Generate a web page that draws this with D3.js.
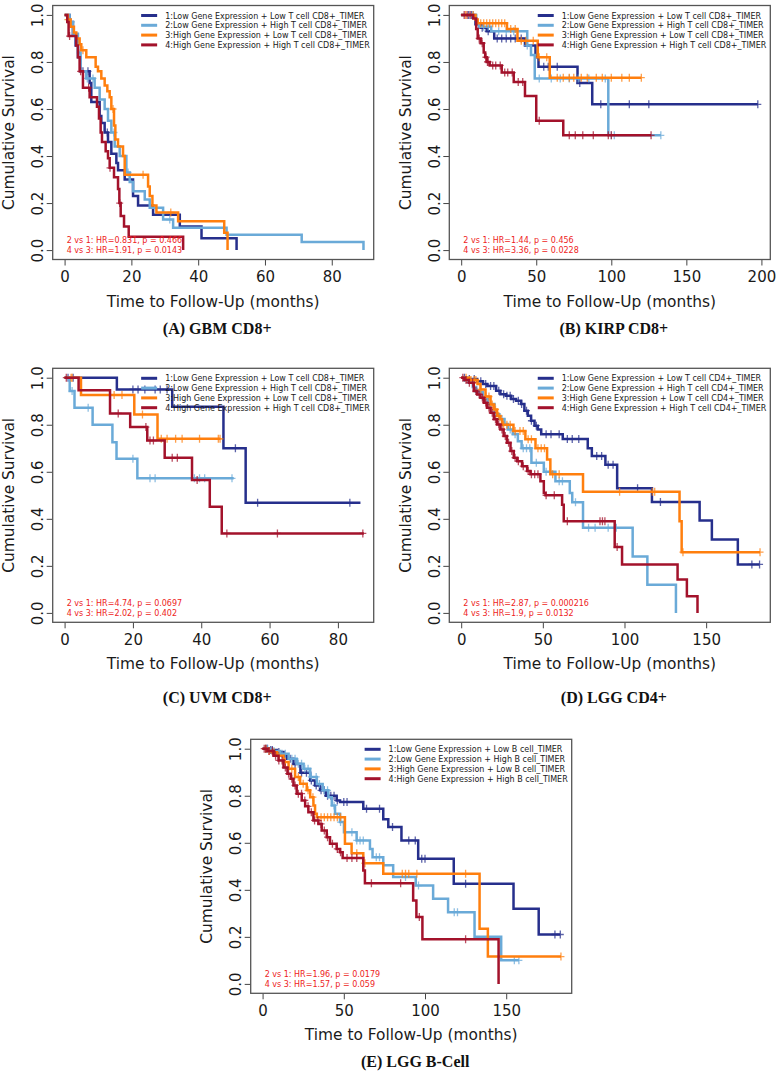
<!DOCTYPE html>
<html>
<head>
<meta charset="utf-8">
<script src="https://cdn.jsdelivr.net/npm/d3@7"></script>
<style>
  body { margin: 0; background: #fff; }
  #chart { width: 780px; height: 1072px; }
</style>
</head>
<body>
<div id="chart"></div>
<script>
// ---- data ----
const panelTitles = ["(A) GBM CD8+", "(B) KIRP CD8+", "(C) UVM CD8+", "(D) LGG CD4+", "(E) LGG B-Cell"];
const panelXMax = [89, 198, 87, 182, 183];
const panelXTicks = [[0, 20, 40, 60, 80], [0, 50, 100, 150, 200], [0, 20, 40, 60, 80], [0, 50, 100, 150], [0, 50, 100, 150]];
const yTicks = [0, 0.2, 0.4, 0.6, 0.8, 1.0];

const cd8Labels = [
    "1:Low Gene Expression + Low T cell CD8+_TIMER",
    "2:Low Gene Expression + High T cell CD8+_TIMER",
    "3:High Gene Expression + Low T cell CD8+_TIMER",
    "4:High Gene Expression + High T cell CD8+_TIMER"
];
const cd4Labels = [
    "1:Low Gene Expression + Low T cell CD4+_TIMER",
    "2:Low Gene Expression + High T cell CD4+_TIMER",
    "3:High Gene Expression + Low T cell CD4+_TIMER",
    "4:High Gene Expression + High T cell CD4+_TIMER"
];
const bcellLabels = [
    "1:Low Gene Expression + Low B cell_TIMER",
    "2:Low Gene Expression + High B cell_TIMER",
    "3:High Gene Expression + Low B cell_TIMER",
    "4:High Gene Expression + High B cell_TIMER"
];

const hrTexts = [
    ["2 vs 1: HR=0.831, p = 0.466", "4 vs 3: HR=1.91, p = 0.0143"],
    ["2 vs 1: HR=1.44, p = 0.456", "4 vs 3: HR=3.36, p = 0.0228"],
    ["2 vs 1: HR=4.74, p = 0.0697", "4 vs 3: HR=2.02, p = 0.402"],
    ["2 vs 1: HR=2.87, p = 0.000216", "4 vs 3: HR=1.9, p = 0.0132"],
    ["2 vs 1: HR=1.96, p = 0.0179", "4 vs 3: HR=1.57, p = 0.059"]
];

// KM steps: [month, survival after the drop]; last entry is where the curve ends
const gbmSteps = [
    [[0,1],[1.5,0.97],[2.5,0.92],[3.3,0.87],[4,0.82],[4.7,0.76],[7.5,0.71],[8,0.63],[10.5,0.57],[11,0.54],[12,0.5],[13,0.46],[14,0.41],[15.5,0.37],[16,0.34],[18,0.3],[20.5,0.23],[22,0.19],[26.5,0.15],[34.5,0.1],[41,0.05],[51.5,0]],
    [[0,1],[1.5,0.97],[2.5,0.92],[4,0.84],[4.8,0.76],[6.5,0.73],[9,0.69],[10.5,0.64],[12,0.6],[13,0.55],[14,0.5],[15,0.44],[16.5,0.4],[18.5,0.33],[19.5,0.29],[20.5,0.25],[24,0.215],[25.5,0.18],[29.5,0.13],[32.5,0.095],[48.5,0.065],[71,0.034],[89.5,0]],
    [[0,1],[1,0.98],[1.8,0.95],[2.8,0.925],[3.5,0.9],[4.5,0.875],[5,0.85],[6.5,0.82],[9.3,0.78],[10,0.76],[11,0.73],[12,0.7],[12.8,0.675],[13.5,0.65],[14,0.6],[14.8,0.53],[15.2,0.47],[16,0.44],[17.5,0.4],[18,0.32],[25,0.27],[25.5,0.23],[26.3,0.19],[27.5,0.16],[34,0.123],[47.8,0.074],[48.8,0]],
    [[0,1],[0.8,0.97],[1.2,0.91],[3.5,0.87],[4,0.82],[4.5,0.76],[5.5,0.69],[7.5,0.65],[9.7,0.61],[10.3,0.56],[10.8,0.5],[11.2,0.46],[12.3,0.42],[13,0.39],[13.5,0.35],[14.8,0.31],[16,0.26],[16.4,0.2],[16.8,0.145],[17.8,0.1],[19.2,0.057],[35.5,0]]
];
const gbmCensor = [
    [5.5, 7, 12.8],
    [2, 6.8, 8.5, 14.8, 19, 31.5],
    [1, 5.5, 14.5, 23.5, 31.8],
    [1.5, 4.8, 7.2, 13.6, 16.5]
];

const kirpSteps = [
    [[0,1],[9.5,0.96],[13,0.945],[17,0.93],[22,0.9],[42.5,0.87],[49.5,0.82],[51.5,0.78],[77.5,0.71],[87.3,0.62],[197.6,0.62]],
    [[0,1],[10,0.965],[12,0.95],[20,0.93],[44,0.87],[46.5,0.83],[49,0.73],[98,0.488],[133,0.488]],
    [[0,1],[9.5,0.98],[11,0.965],[30.5,0.94],[37.5,0.89],[51,0.82],[59,0.733],[120,0.733]],
    [[0,1],[8,0.985],[10,0.94],[11,0.9],[13,0.88],[15,0.84],[16,0.82],[17,0.8],[19,0.785],[27,0.755],[35,0.715],[42.5,0.655],[50,0.55],[68,0.488],[126.5,0.488]]
];
const kirpCensor = [
    [5, 7, 14, 18, 24, 27, 30, 33, 36, 40, 55, 58, 64, 79, 93, 112, 125, 197.6],
    [8, 15, 18, 25, 30, 35, 44, 52, 60, 66, 72, 78, 85, 96, 100, 102, 133],
    [3, 8, 13, 15, 17, 19, 21, 23, 25, 27, 29, 33, 36, 40, 43, 48, 52, 57, 64, 68, 72, 75, 80, 84, 90, 94, 100, 107, 112, 120],
    [2, 4, 6, 12, 14, 16.5, 17.5, 18, 21, 23, 26, 29, 31, 34, 38, 41, 52, 72, 76, 81, 88, 98, 100, 126.5]
];

const uvmSteps = [
    [[0,1],[15.3,0.95],[31.5,0.877],[46.5,0.7],[53,0.468],[86.6,0.468]],
    [[0,1],[1.5,0.943],[2.9,0.872],[8.2,0.8],[14,0.726],[15.2,0.655],[21.3,0.572],[49.5,0.572]],
    [[0,1],[4.8,0.926],[20.4,0.844],[27.2,0.74],[45.6,0.74]],
    [[0,1],[4.1,0.947],[13.3,0.848],[19.2,0.79],[24.2,0.733],[29.3,0.66],[37.3,0.565],[42.5,0.451],[46,0.338],[87.6,0.338]]
];
const uvmCensor = [
    [1, 2.5, 20, 21.5, 23.5, 26.5, 28, 30, 50, 56.5, 83.5],
    [2.2, 6.9, 20, 25, 26.5, 38, 39.5, 41, 49],
    [1.9, 2.2, 14.5, 16.8, 22.8, 28.3, 30, 32.5, 34.4, 39.5, 45, 45.5],
    [0.5, 15.7, 23.8, 25, 26, 31.5, 33, 38.8, 47.5, 62.3, 87.3]
];

const lggCd4Steps = [
    [[0,1],[3,0.995],[9.8,0.985],[13.3,0.973],[16,0.965],[21.4,0.945],[24,0.93],[27.5,0.923],[30.6,0.909],[33.6,0.902],[36.7,0.888],[38.7,0.86],[40.8,0.838],[42.8,0.817],[44.9,0.796],[46.9,0.78],[49,0.76],[62.2,0.739],[77.5,0.7],[80,0.667],[88.3,0.63],[95.5,0.53],[116.8,0.472],[146,0.393],[153.5,0.312],[169.4,0.206],[182.7,0.206]],
    [[0,1],[2,0.99],[7.1,0.96],[9.2,0.94],[13.3,0.909],[16.3,0.888],[20.4,0.845],[23.4,0.824],[26.5,0.803],[28.5,0.78],[31.6,0.76],[34.7,0.73],[37,0.7],[43,0.638],[50.6,0.6],[57.7,0.56],[66.5,0.51],[68,0.47],[74.6,0.362],[105,0.24],[114,0.12],[131.5,0]],
    [[0,1],[5,0.99],[10,0.973],[11.8,0.95],[14.9,0.92],[18,0.886],[20,0.865],[22,0.837],[24,0.823],[25,0.8],[32,0.773],[39.3,0.738],[45.5,0.7],[52.6,0.652],[54.6,0.59],[74.6,0.515],[133.7,0.39],[135,0.258],[183,0.258]],
    [[0,1],[2,0.99],[4.7,0.979],[7.7,0.943],[9.8,0.929],[11.8,0.915],[13.9,0.894],[15.9,0.872],[18,0.851],[20,0.823],[22,0.801],[24,0.78],[26,0.752],[28,0.723],[30.2,0.688],[32.2,0.66],[34.3,0.645],[37.3,0.624],[40.4,0.603],[42.4,0.589],[48.5,0.56],[50.6,0.51],[51.6,0.5],[61.8,0.46],[62.8,0.39],[94,0.28],[98.5,0.206],[132.5,0.142],[138.2,0.071],[144.7,0]]
];
const lggCd4Censor = [
    [2, 5, 8, 12, 15, 18, 20, 23, 26, 28, 30, 32, 35, 37, 40, 43, 46, 52, 55, 60, 65, 68, 72, 83, 86, 90, 93, 108, 122, 178, 182.7],
    [4, 10, 15, 18, 25, 30, 33, 38, 40, 42, 46, 52, 60, 62, 70, 78, 82, 90, 95],
    [3, 5, 6, 8, 9, 12, 15, 17, 19, 21, 23, 26, 28, 30, 33, 36, 38, 41, 43, 47, 49, 51, 56, 60, 97, 117, 118.5, 135.8, 183],
    [1, 3, 5, 7, 9, 11, 13, 15, 17, 19, 21, 23, 25, 27, 29, 31, 33, 35, 38, 41, 43, 45, 47, 52, 57, 65, 85, 86.5, 88, 95.5]
];

const lggBSteps = [
    [[0,1],[4,0.995],[8.8,0.986],[12.9,0.968],[15,0.957],[19,0.935],[23.3,0.898],[29.3,0.865],[32.3,0.844],[35.4,0.823],[39,0.8],[45.6,0.78],[47.7,0.773],[62,0.745],[74.3,0.7],[77.4,0.667],[85.5,0.61],[95.8,0.532],[117.7,0.426],[154.5,0.319],[170,0.21],[183.3,0.21]],
    [[0,1],[5,0.99],[10.8,0.979],[16,0.957],[21,0.936],[25.2,0.915],[29.3,0.88],[33.4,0.85],[37,0.823],[40.5,0.794],[42.6,0.759],[44.6,0.723],[47.7,0.688],[50.1,0.645],[57.9,0.61],[66.1,0.574],[67.7,0.539],[74.3,0.504],[80.4,0.454],[94.3,0.418],[105,0.362],[114.2,0.305],[130.5,0.2],[146.9,0.1],[157.8,0.1]],
    [[0,1],[3,0.99],[5.7,0.985],[8.8,0.97],[12.9,0.943],[16,0.915],[20,0.88],[23.1,0.851],[27.2,0.823],[29.3,0.794],[31.3,0.759],[32.3,0.723],[33.4,0.709],[50.7,0.596],[54.8,0.556],[62,0.513],[74.3,0.468],[133.6,0.234],[138.7,0.116],[183.7,0.116]],
    [[0,1],[3,0.99],[6.8,0.97],[9.8,0.95],[12.9,0.92],[15.3,0.894],[17.4,0.872],[19,0.844],[21,0.809],[24.1,0.78],[26.2,0.755],[28.2,0.73],[31.3,0.695],[34.4,0.68],[36.4,0.652],[39.5,0.624],[41.5,0.596],[45.6,0.574],[47.7,0.56],[49.3,0.535],[62,0.482],[63,0.428],[92.7,0.355],[94.7,0.284],[98.4,0.19],[145.3,0]]
];
const lggBCensor = [
    [2, 3, 5, 6, 10, 13, 17, 20, 24, 27, 30, 33, 36, 38, 40, 42, 44, 46, 50, 52, 64, 72, 80, 90, 94, 98, 100, 125, 180, 183.3],
    [3, 7, 12, 14, 18, 20, 22, 24, 26, 28, 30, 33, 35, 38, 40, 44, 48, 55, 58, 60, 62, 70, 72, 88, 96, 118, 120, 155, 157.8],
    [2, 4, 7, 10, 14, 18, 22, 25, 28, 31, 36, 38, 40, 42, 44, 46, 48, 58, 63, 86, 88, 90, 95, 125, 183.7],
    [1, 2, 4, 6, 8, 10, 12, 14, 16, 18, 20, 22, 24, 26, 28, 30, 32, 34, 36, 38, 40, 43, 46, 48, 52, 55, 58, 67, 85, 96.5, 125]
];

const groupColors = ["#262f8c", "#6aaad8", "#ff7f0e", "#a3122b"];

document.addEventListener("DOMContentLoaded", () => {
    const svg = d3.select("#chart")
        .append("svg")
        .attr("width", 780)
        .attr("height", 1072)
        .style("background", "#fff");

    const boxW = 321, boxH = 254;
    // panel boxes (left, top) and title baselines
    const layout = [
        { left: 52.7, top: 5.5, titleY: 334 },
        { left: 449.3, top: 5.5, titleY: 334 },
        { left: 52.7, top: 368.3, titleY: 703 },
        { left: 449.3, top: 368.3, titleY: 703 },
        { left: 250.7, top: 739.3, titleY: 1067 }
    ];
    const stepsByPanel = [gbmSteps, kirpSteps, uvmSteps, lggCd4Steps, lggBSteps];
    const censorByPanel = [gbmCensor, kirpCensor, uvmCensor, lggCd4Censor, lggBCensor];
    const labelsByPanel = [cd8Labels, cd8Labels, cd8Labels, cd4Labels, bcellLabels];

    const survAt = (steps, t) => {
        let s = 1;
        steps.forEach(([tt, ss]) => { if (tt <= t) s = ss; });
        return s;
    };

    layout.forEach((pos, p) => {
        const g = svg.append("g").attr("transform", `translate(${pos.left},${pos.top})`);
        const xMax = panelXMax[p];

        const x = d3.scaleLinear().domain([-0.04 * xMax, 1.04 * xMax]).range([0, boxW]);
        const y = d3.scaleLinear().domain([-0.04, 1.04]).range([boxH, 0]);

        // Axes
        const xAxis = g.append("g")
            .attr("transform", `translate(0,${boxH})`)
            .call(d3.axisBottom(x).tickValues(panelXTicks[p]).tickSize(6).tickFormat(d3.format("d")));
        xAxis.select(".domain").remove();
        xAxis.selectAll("line").attr("stroke", "#444").attr("stroke-width", 1);
        xAxis.selectAll("text")
            .attr("y", 22.4)
            .attr("dy", null)
            .attr("fill", "#1a1a1a")
            .style("font-family", "DejaVu Sans")
            .style("font-size", "15px");

        const yAxis = g.append("g")
            .call(d3.axisLeft(y).tickValues(yTicks).tickSize(6).tickFormat(d3.format(".1f")));
        yAxis.select(".domain").remove();
        yAxis.selectAll("line").attr("stroke", "#444").attr("stroke-width", 1);
        yAxis.selectAll("text")
            .attr("x", null)
            .attr("dy", null)
            .attr("transform", "translate(-9.4,0) rotate(-90)")
            .attr("text-anchor", "middle")
            .attr("fill", "#1a1a1a")
            .style("font-family", "DejaVu Sans")
            .style("font-size", "15px");

        // Plot frame
        g.append("rect")
            .attr("width", boxW)
            .attr("height", boxH)
            .attr("fill", "none")
            .attr("stroke", "#555")
            .attr("stroke-width", 1.3);

        // Axis titles
        g.append("text")
            .attr("x", boxW / 2)
            .attr("y", boxH + 47)
            .attr("text-anchor", "middle")
            .attr("fill", "#1a1a1a")
            .style("font-family", "DejaVu Sans")
            .style("font-size", "15.4px")
            .text("Time to Follow-Up (months)");

        g.append("text")
            .attr("transform", `translate(${-38.5},${boxH / 2}) rotate(-90)`)
            .attr("text-anchor", "middle")
            .attr("fill", "#1a1a1a")
            .style("font-family", "DejaVu Sans")
            .style("font-size", "15.4px")
            .text("Cumulative Survival");

        // KM curves
        const km = d3.line()
            .x(d => x(d[0]))
            .y(d => y(d[1]))
            .curve(d3.curveStepAfter);

        stepsByPanel[p].forEach((steps, i) => {
            g.append("path")
                .datum(steps)
                .attr("fill", "none")
                .attr("stroke", groupColors[i])
                .attr("stroke-width", 2.5)
                .attr("stroke-linejoin", "miter")
                .attr("d", km);

            // censor marks
            g.selectAll(null)
                .data(censorByPanel[p][i])
                .enter()
                .append("path")
                .attr("transform", t => `translate(${x(t)},${y(survAt(steps, t))})`)
                .attr("d", "M0,-4V4M-3.5,0H3.5")
                .attr("stroke", groupColors[i])
                .attr("stroke-opacity", 0.75)
                .attr("stroke-width", 1.3);
        });

        // Legend
        const legend = g.append("g");
        const rows = legend.selectAll("g")
            .data(labelsByPanel[p])
            .enter()
            .append("g")
            .attr("transform", (d, i) => `translate(0,${10 + i * 9.8})`);
        const labels = rows.append("text")
            .attr("y", 3)
            .attr("fill", "#1a1a1a")
            .style("font-family", "DejaVu Sans")
            .style("font-size", "8px")
            .text(d => d);
        const longest = d3.max(labels.nodes(), n => n.getComputedTextLength());
        const textX = boxW - 4 - longest;
        labels.attr("x", textX);
        rows.append("line")
            .attr("x1", textX - 24)
            .attr("x2", textX - 8)
            .attr("stroke", (d, i) => groupColors[i])
            .attr("stroke-width", 3);

        // HR annotation
        g.selectAll(null)
            .data(hrTexts[p])
            .enter()
            .append("text")
            .attr("x", 14)
            .attr("y", (d, i) => boxH - 16.3 + i * 10)
            .attr("fill", "#ee1c22")
            .style("font-family", "DejaVu Sans")
            .style("font-size", "8px")
            .text(d => d);

        // Panel caption
        svg.append("text")
            .attr("x", pos.left + boxW / 2 + 4)
            .attr("y", pos.titleY)
            .attr("text-anchor", "middle")
            .attr("fill", "#111")
            .style("font-family", "Liberation Serif")
            .style("font-weight", "bold")
            .style("font-size", "16px")
            .text(panelTitles[p]);
    });
});
</script>
</body>
</html>
